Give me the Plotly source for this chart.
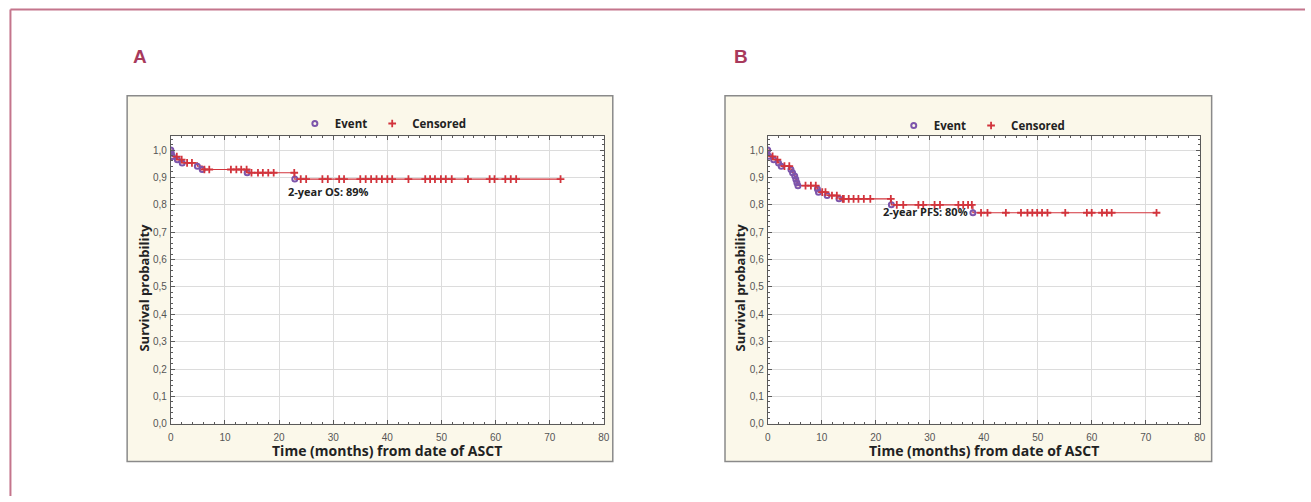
import plotly.graph_objects as go

W, H = 1311, 502

# ---------------- data ----------------
# Panel A: overall survival
os_event_times = [0.1, 0.3, 1.2, 2.1, 4.9, 5.8, 14.1, 22.9]
os_levels      = [0.988, 0.976, 0.965, 0.953, 0.941, 0.929, 0.917, 0.894]
os_censor_times = [1.1, 2.0, 3.0, 3.9, 6.2, 7.1, 11.1, 12.1, 13.0, 14.0, 14.9, 16.1,
                   17.0, 18.0, 19.0, 22.8, 24.0, 25.0, 28.0, 29.0, 31.1, 32.0, 35.0,
                   36.0, 37.0, 38.0, 39.0, 40.0, 40.9, 43.9, 47.0, 47.9, 48.8, 49.9,
                   50.8, 51.9, 54.9, 58.9, 59.8, 61.8, 62.8, 63.8, 72.0]

# Panel B: progression-free survival
pfs_event_times = [0.2, 1.1, 2.0, 2.5, 4.3, 4.6, 5.0, 5.2, 5.4, 5.6, 9.2, 9.4,
                   11.0, 13.2, 22.9, 38.0]
pfs_levels      = [0.977, 0.965, 0.953, 0.941, 0.929, 0.917, 0.905, 0.893, 0.881,
                   0.870, 0.858, 0.846, 0.834, 0.822, 0.800, 0.771]
pfs_censor_times = [0.9, 1.8, 3.1, 4.0, 7.0, 8.0, 8.9, 10.1, 10.7, 11.9, 12.8, 13.9,
                    14.1, 15.0, 15.9, 16.8, 17.8, 19.0, 22.8, 23.9, 25.1, 27.9, 28.8,
                    30.9, 31.9, 35.3, 36.2, 37.1, 37.8, 39.5, 40.7, 44.1, 46.9, 48.1,
                    49.0, 49.9, 50.8, 51.8, 55.1, 59.1, 60.0, 61.9, 62.8, 63.7, 72.0]

x_ticks = [0, 10, 20, 30, 40, 50, 60, 70, 80]
y_ticks = [0.0, 0.1, 0.2, 0.3, 0.4, 0.5, 0.6, 0.7, 0.8, 0.9, 1.0]

panel_labels = ["A", "B"]
notes = ["2-year OS: 89%", "2-year PFS: 80%"]
legend_names = ["Event", "Censored"]
x_title = "Time (months) from date of ASCT"
y_title = "Survival probability"

# ---------------- helpers ----------------
def px(x):
    return x / W

def py(y):
    return 1 - y / H

def surv_at(t, ev_t, lev):
    s = 1.0
    for et, lv in zip(ev_t, lev):
        if et <= t:
            s = lv
    return s

RED = "#d2343c"
PURPLE = "#7d55ab"

fig = go.Figure()

panels = [
    dict(ev=os_event_times, lev=os_levels, cen=os_censor_times, xa="x", ya="y",
         legend="legend"),
    dict(ev=pfs_event_times, lev=pfs_levels, cen=pfs_censor_times, xa="x2", ya="y2",
         legend="legend2"),
]

for p in panels:
    end_t = max(p["cen"])
    xs = [0] + p["ev"] + [end_t]
    ys = [1.0] + p["lev"] + [p["lev"][-1]]
    fig.add_trace(go.Scatter(x=xs, y=ys, mode="lines", line=dict(color=RED, width=1.2, shape="hv"),
                             xaxis=p["xa"], yaxis=p["ya"], showlegend=False, hoverinfo="skip"))
    cy = [surv_at(t, p["ev"], p["lev"]) for t in p["cen"]]
    fig.add_trace(go.Scatter(x=[0] + p["ev"], y=[1.0] + p["lev"], mode="markers",
                             name="<b>%s</b>" % legend_names[0],
                             marker=dict(symbol="circle-open", size=5, color=PURPLE,
                                         line=dict(width=2, color=PURPLE)),
                             xaxis=p["xa"], yaxis=p["ya"], legend=p["legend"]))
    fig.add_trace(go.Scatter(x=p["cen"], y=cy, mode="markers",
                             name="<b>%s</b>" % legend_names[1],
                             marker=dict(symbol="cross-thin-open", size=5.5, color=RED,
                                         line=dict(width=1.8, color=RED)),
                             xaxis=p["xa"], yaxis=p["ya"], legend=p["legend"]))

ydom = [py(429), py(138)]
xdomA = [px(169), px(605)]
xdomB = [px(770), px(1205)]

axis_common = dict(showgrid=True, gridcolor="#dcdcdc", gridwidth=1, zeroline=False,
                   showline=True, linecolor="#5a5a5a", linewidth=1, mirror="allticks",
                   ticks="inside", ticklen=4, tickcolor="#5a5a5a",
                   tickfont=dict(family="Liberation Sans, Arial", size=10, color="#555555"))

xax = dict(axis_common, range=[0, 80], tickvals=x_ticks, ticktext=[str(v) for v in x_ticks],
           ticklabelstandoff=4,
           minor=dict(dtick=2, ticks="inside", ticklen=2, tickcolor="#5a5a5a", showgrid=False))
yax = dict(axis_common, range=[0, 1.05], tickvals=y_ticks, tickformat=".1f",
           ticklabelstandoff=1,
           minor=dict(dtick=0.02, ticks="inside", ticklen=2, tickcolor="#5a5a5a", showgrid=False))

leg_common = dict(orientation="h", xanchor="center", yanchor="middle",
                  bgcolor="rgba(0,0,0,0)", font=dict(family="Open Sans", size=11.5, color="#222"),
                  itemwidth=30, tracegroupgap=0)

fig.update_layout(
    width=W, height=H, margin=dict(l=0, r=0, t=0, b=0),
    paper_bgcolor="white", plot_bgcolor="white",
    separators=", ",
    xaxis=dict(xax, domain=xdomA, anchor="y"),
    yaxis=dict(yax, domain=ydom, anchor="x"),
    xaxis2=dict(xax, domain=xdomB, anchor="y2"),
    yaxis2=dict(yax, domain=ydom, anchor="x2"),
    legend=dict(leg_common, x=px(383), y=py(125)),
    legend2=dict(leg_common, x=px(986), y=py(127)),
    showlegend=True,
)

shapes = []
# outer frame (top + left)
shapes.append(dict(type="line", xref="paper", yref="paper", x0=px(7.5), x1=1.0, y0=py(9.5), y1=py(9.5),
                   line=dict(color="#c4758c", width=2)))
shapes.append(dict(type="line", xref="paper", yref="paper", x0=px(7.5), x1=px(7.5), y0=py(9.5), y1=0,
                   line=dict(color="#c4758c", width=2)))
# beige chart boxes
for x0, x1 in [(125, 614), (727, 1217)]:
    shapes.append(dict(type="rect", xref="paper", yref="paper", x0=px(x0), x1=px(x1), y0=py(467), y1=py(97),
                       fillcolor="#fbf8ea", line=dict(color="#8a8a8a", width=1.5), layer="below"))
# white plot areas
for xr, yr in [("x domain", "y domain"), ("x2 domain", "y2 domain")]:
    shapes.append(dict(type="rect", xref=xr, yref=yr, x0=0, x1=1, y0=0, y1=1,
                       fillcolor="white", line=dict(width=0), layer="below"))
fig.update_layout(shapes=shapes)

annotations = []
for lab, x in zip(panel_labels, [138, 743]):
    annotations.append(dict(text="<b>%s</b>" % lab, x=px(x), y=py(57), xref="paper", yref="paper",
                            showarrow=False, xanchor="center", yanchor="middle",
                            font=dict(family="Liberation Sans, Arial", size=19, color="#a83a5c")))
for cx in [387, 988]:
    annotations.append(dict(text="<b>%s</b>" % x_title, x=px(cx), y=py(456), xref="paper", yref="paper",
                            showarrow=False, xanchor="center", yanchor="middle",
                            font=dict(family="Open Sans", size=14, color="#222")))
for cx in [141, 742]:
    annotations.append(dict(text="<b>%s</b>" % y_title, x=px(cx), y=py(291), xref="paper", yref="paper",
                            showarrow=False, xanchor="center", yanchor="middle", textangle=-90,
                            font=dict(family="Open Sans", size=13, color="#222")))
for note, cx, cy in zip(notes, [327, 929], [194, 214]):
    annotations.append(dict(text="<b>%s</b>" % note, x=px(cx), y=py(cy), xref="paper", yref="paper",
                            showarrow=False, xanchor="center", yanchor="middle",
                            font=dict(family="Open Sans", size=11, color="#222")))
fig.update_layout(annotations=annotations)

fig.write_html("out.html")
